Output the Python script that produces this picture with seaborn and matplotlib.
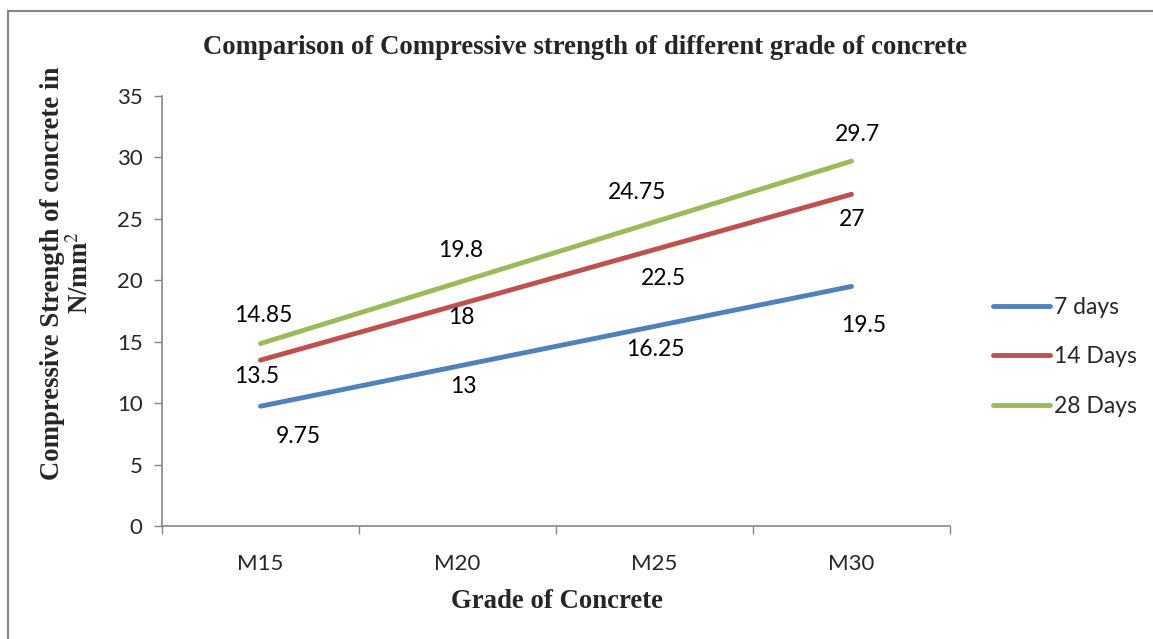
"""
Compressive strength of concrete grades at 7 / 14 / 28 days.
"""

import matplotlib
matplotlib.use("Agg")
import matplotlib.pyplot as plt
from matplotlib.patches import Rectangle
import pandas as pd
import seaborn as sns

# --- data -------------------------------------------------------------
grades     = ["M15", "M20", "M25", "M30"]
days_7     = [9.75, 13, 16.25, 19.5]
days_14    = [13.5, 18, 22.5, 27]
days_28    = [14.85, 19.8, 24.75, 29.7]
series     = ["7 days", "14 Days", "28 Days"]
y_ticks    = [0, 5, 10, 15, 20, 25, 30, 35]

colors = ["#4F81BD", "#C0504D", "#9BBB59"]

# label offsets in pixels (dx, dy) relative to each point
label_offsets = {
    "7 days":  [(38, -30), (6, -20), (1, -23), (12, -39)],
    "14 Days": [(-4, -16), (4, -13), (9, -29), (1, -25)],
    "28 Days": [(3, 28), (3, 32), (-17, 29), (6, 27)],
}

df = pd.DataFrame({
    "grade":    grades * 3,
    "strength": days_7 + days_14 + days_28,
    "series":   [s for s in series for _ in grades],
})

sns.set_style("white")
plt.rcParams["font.family"] = ["Lato", "DejaVu Sans"]

fig = plt.figure(figsize=(11.53, 6.39), dpi=100)
ax = fig.add_axes([162 / 1153, 1 - 526 / 639, 788 / 1153, 430 / 639])

sns.lineplot(
    data=df, x="grade", y="strength", hue="series",
    palette=colors, linewidth=3.5, sort=False, legend=False, ax=ax,
    solid_capstyle="round",
)
ax.set_xlabel("")
ax.set_ylabel("")

# data labels
for name in series:
    sub = df[df["series"] == name].reset_index(drop=True)
    for i, row in sub.iterrows():
        dx, dy = label_offsets[name][i]
        ax.annotate(
            f"{row['strength']:g}", (i, row["strength"]),
            xytext=(dx * 0.72, dy * 0.72), textcoords="offset points",
            ha="center", va="center", fontsize=16.5, color="black",
        )

# axes styling
ax.set_xlim(-0.5, len(grades) - 0.5)
ax.set_ylim(0, 35)
ax.set_yticks(y_ticks)
ax.set_xticks(range(len(grades)))
ax.set_xticklabels(grades)
ax.set_xticks([i - 0.5 for i in range(len(grades) + 1)], minor=True)
ax.tick_params(axis="x", which="major", length=0, pad=20, labelsize=16)
ax.tick_params(axis="x", which="minor", length=6, width=1, color="#868686",
               direction="out", bottom=True)
ax.tick_params(axis="y", length=6, width=1, color="#868686",
               direction="out", left=True, labelsize=16, pad=8)
for side in ["top", "right"]:
    ax.spines[side].set_visible(False)
for side in ["left", "bottom"]:
    ax.spines[side].set_color("#868686")
    ax.spines[side].set_linewidth(1.2)

serif = ["Liberation Serif", "DejaVu Serif"]
fig.text(585 / 1153, 1 - 48 / 639,
         "Comparison of Compressive strength of different grade of concrete",
         ha="center", va="center", fontsize=19.3, fontweight="bold", family=serif)
fig.text(557 / 1153, 1 - 601 / 639, "Grade of Concrete",
         ha="center", va="center", fontsize=19.3, fontweight="bold", family=serif)
fig.text(67 / 1153, 1 - 273 / 639,
         "Compressive Strength of concrete in\nN/mm$^2$",
         ha="center", va="center", rotation=90, fontsize=19.3,
         fontweight="bold", family=serif, linespacing=1.1,
         math_fontfamily="stix")

# legend
handles = [plt.Line2D([], [], color=c, linewidth=3.5, solid_capstyle="round")
           for c in colors]
fig.legend(handles, series, loc="center left",
           bbox_to_anchor=(972 / 1153, 1 - 357 / 639), frameon=False,
           fontsize=16.5, handlelength=2.5, handletextpad=0.2,
           labelspacing=1.25)

# outer chart border
fig.add_artist(Rectangle((8 / 1153, -0.1), 1.2, 1.1 - 11 / 639,
                         transform=fig.transFigure, fill=False,
                         edgecolor="#868686", linewidth=1.5))

fig.savefig("out.png", dpi=100)
